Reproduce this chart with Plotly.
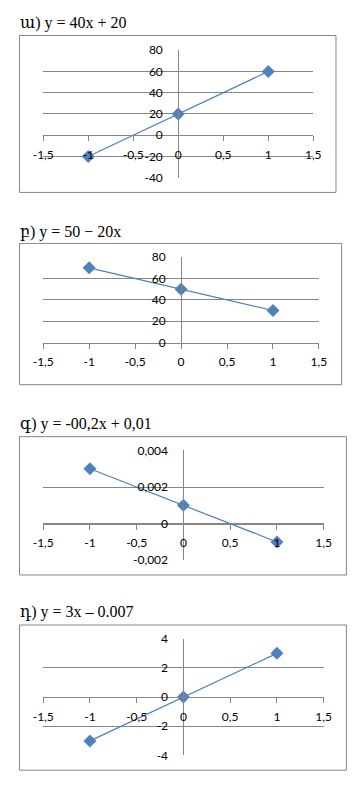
import plotly.graph_objects as go

W, H = 362, 787

# ---------------- data ----------------
titles = ["ա) y = 40x + 20", "բ) y = 50 − 20x", "գ) y = -00,2x + 0,01", "դ) y = 3x – 0.007"]
x_vals = [-1, 0, 1]
y1 = [-20, 20, 60]
y2 = [70, 50, 30]
y3 = [0.003, 0.001, -0.001]
y4 = [-3, 0, 3]
series = [y1, y2, y3, y4]

x_tickvals = [-1.5, -1, -0.5, 0, 0.5, 1, 1.5]
x_ticktext = ["-1,5", "-1", "-0,5", "0", "0,5", "1", "1,5"]

y1_tickvals = [-40, -20, 0, 20, 40, 60, 80]
y1_ticktext = ["-40", "-20", "0", "20", "40", "60", "80"]
y2_tickvals = [0, 20, 40, 60, 80]
y2_ticktext = ["0", "20", "40", "60", "80"]
y3_tickvals = [-0.002, 0, 0.002, 0.004]
y3_ticktext = ["-0,002", "0", "0,002", "0,004"]
y4_tickvals = [-4, -2, 0, 2, 4]
y4_ticktext = ["-4", "-2", "0", "2", "4"]
y_ticks = [(y1_tickvals, y1_ticktext), (y2_tickvals, y2_ticktext),
           (y3_tickvals, y3_ticktext), (y4_tickvals, y4_ticktext)]
y_ranges = [[-40, 80], [0, 80], [-0.002, 0.004], [-4, 4]]
x_range = [-1.5, 1.5]

# ---------------- layout geometry (pixels) ----------------
# plot area: left, right, top, bottom
plot_px = [(34, 319, 43, 173), (34, 325, 254, 341), (34, 330, 451, 563), (34, 330, 643, 762)]
box_px = [(9, 343, 28, 188), (9, 349, 240, 384), (9, 354, 437, 578), (9, 354, 629, 777)]
title_y_px = [15, 228, 424, 616]

GRID = "#868686"
BLUE = "#4F81BD"
TICKFONT = dict(family="Lato, Calibri, Carlito, Arial, sans-serif", size=12, color="#000000")

fig = go.Figure()
layout = dict(
    width=W, height=H,
    margin=dict(l=0, r=0, t=0, b=0),
    paper_bgcolor="white", plot_bgcolor="rgba(0,0,0,0)",
    showlegend=False,
    shapes=[], annotations=[],
)

def fx(px):
    return px / W

def fy(py):
    return 1 - py / H

for i in range(4):
    n = "" if i == 0 else str(i + 1)
    xa, ya = "x" + n, "y" + n
    l, r, t, b = plot_px[i]
    ymin, ymax = y_ranges[i]
    xd = [fx(l), fx(r)]
    yd = [fy(b), fy(t)]
    # fraction positions of the zero lines
    x0_pos = xd[0] + (0 - x_range[0]) / (x_range[1] - x_range[0]) * (xd[1] - xd[0])
    y0_pos = yd[0] + (0 - ymin) / (ymax - ymin) * (yd[1] - yd[0])

    fig.add_trace(go.Scatter(
        x=x_vals, y=series[i], xaxis=xa, yaxis=ya,
        mode="lines+markers",
        line=dict(color=BLUE, width=1.2),
        marker=dict(symbol="diamond", size=10, color=BLUE, line=dict(width=0)),
        hoverinfo="skip",
    ))

    layout["xaxis" + n] = dict(
        domain=xd, range=x_range, anchor="free", position=y0_pos,
        showgrid=False, zeroline=False,
        showline=True, linecolor=GRID, linewidth=1,
        ticks="outside", ticklen=5, tickcolor=GRID, tickwidth=1,
        tickvals=x_tickvals, ticktext=x_ticktext,
        tickfont=TICKFONT, ticklabelstandoff=3,
        fixedrange=True,
    )
    tv, tt = y_ticks[i]
    layout["yaxis" + n] = dict(
        domain=yd, range=[ymin, ymax], anchor="free", position=x0_pos,
        showgrid=True, gridcolor=GRID, gridwidth=1,
        zeroline=False,
        showline=True, linecolor=GRID, linewidth=1,
        ticks="", tickvals=tv, ticktext=tt,
        tickfont=TICKFONT, ticklabelstandoff=13,
        fixedrange=True,
    )

    bl, br, bt, bb = box_px[i]
    layout["shapes"].append(dict(
        type="rect", xref="paper", yref="paper",
        x0=fx(bl), x1=fx(br), y0=fy(bb), y1=fy(bt),
        line=dict(color=GRID, width=1), fillcolor="rgba(0,0,0,0)", layer="below",
    ))
    layout["annotations"].append(dict(
        text=titles[i], xref="paper", yref="paper",
        x=fx(7), y=fy(title_y_px[i]), xanchor="left", yanchor="middle",
        showarrow=False,
        font=dict(family="Liberation Serif, DejaVu Serif, Times New Roman, serif", size=16, color="#000000"),
    ))

fig.update_layout(**layout)
fig.write_html(
    "out.html",
    config={"displayModeBar": False},
    post_script="document.documentElement.style.margin='0';document.body.style.margin='0';"
                "document.documentElement.style.overflow='hidden';document.body.style.overflow='hidden';",
)
